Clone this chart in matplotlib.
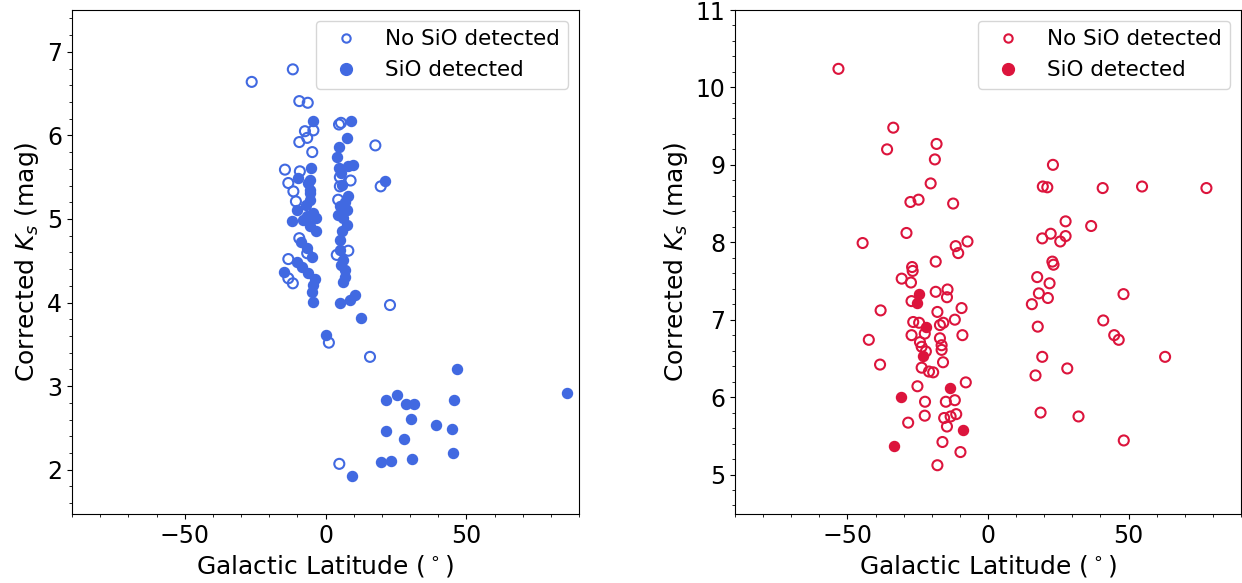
import matplotlib
matplotlib.use("Agg")
import matplotlib.pyplot as plt
from matplotlib.ticker import AutoMinorLocator, MultipleLocator
from matplotlib.lines import Line2D

# ---------------- data ----------------
# Left panel: No SiO detected (open)
left_nosio_lat = [-26.2, -11.6, -9.3, -6.3, 5.5, 4.8, -7.3, -4.3, -6.5, -9.3, -4.7, 17.7,
                  5.1, 8.9, 19.6, -14.4, -9.1, -13.2, -11.4, 4.5, -10.5, -9.3, -6.5, -13.2,
                  -13.2, -11.6, 8.1, 4.0, 1.2, 22.9, 15.8, 4.9, 5.1]
left_nosio_ks = [6.64, 6.79, 6.41, 6.39, 6.15, 6.13, 6.05, 6.06, 5.97, 5.92, 5.80, 5.88,
                 5.50, 5.46, 5.39, 5.59, 5.57, 5.43, 5.33, 5.23, 5.21, 4.77, 4.59, 4.52,
                 4.29, 4.23, 4.62, 4.57, 3.52, 3.97, 3.35, 2.07, 5.39]

# Left panel: SiO detected (filled)
left_sio_lat = [8.9, -4.5, 7.7, 4.9, 4.2, 4.8, 9.7, 8.0, 21.1, -5.1, -9.7, -6.1, -5.5, -5.5,
                5.8, 8.1, -10.2, -12.0, -4.3, -5.5, -7.9, -6.9, -3.4, 5.1, 7.5, 6.3, 7.5,
                4.5, -8.8, -4.9, -10.2, -8.4, -6.1, -4.3, -4.9, -4.3, -14.7, 5.1, 5.1, 6.3,
                6.9, 6.3, 5.1, 10.5, 8.7, 12.6, 0.2, -5.5, -5.5, -4.3, -6.7, 6.0, 5.5, 7.0,
                5.5, 7.0, -3.5, -6.5, -3.6,
                46.6, 85.6, 21.5, 25.3, 28.6, 31.4, 45.7, 30.2, 21.5, 27.9, 39.1, 45.0,
                45.2, 19.7, 23.3, 30.8, 9.5]
left_sio_ks = [6.17, 6.17, 5.97, 5.86, 5.74, 5.61, 5.65, 5.63, 5.46, 5.61, 5.49, 5.43, 5.31,
               5.23, 5.41, 5.28, 5.11, 4.97, 5.05, 4.91, 4.99, 5.17, 5.01, 5.15, 5.11, 5.01,
               4.93, 5.05, 4.73, 4.54, 4.49, 4.43, 4.35, 4.21, 4.13, 4.01, 4.36, 4.75, 4.63,
               4.51, 4.39, 4.25, 4.00, 4.09, 4.03, 3.81, 3.61, 5.47, 5.35, 5.07, 5.03, 4.85,
               4.45, 4.30, 5.55, 5.20, 4.85, 4.65, 4.28,
               3.20, 2.92, 2.83, 2.89, 2.79, 2.79, 2.83, 2.61, 2.46, 2.37, 2.53, 2.49,
               2.20, 2.09, 2.11, 2.13, 1.93]

# Right panel: No SiO detected (open)
right_nosio_lat = [-53.2, -33.7, -35.9, -18.3, -18.9, -20.4, -27.6, -24.7, -12.4, -29.0,
                   -44.6, -11.5, -7.3, -10.6, -18.6, -27.0, -26.8, -30.7, -27.4, -18.6,
                   -14.4, -14.6, -27.2, -38.2, -18.0, -9.4, -11.8, -26.6, -24.5, -17.1,
                   -15.9, -42.4, -27.2, -22.5, -17.1, -16.5, -16.5, -9.1, -24.2, -23.6,
                   -22.1, -16.0, -38.4, -23.6, -21.0, -19.5, -25.1, -7.9, -22.4, -15.0,
                   -11.8, -22.5, -28.4, -15.6, -13.3, -11.3, -14.6, -16.2, -9.8, -18.0,
                   23.1, 19.5, 21.1, 40.8, 54.8, 77.7, 27.6, 36.7, 22.3, 27.6, 19.3, 25.7,
                   22.9, 23.3, 17.5, 21.9, 18.1, 21.3, 15.6, 48.2, 17.7, 41.0, 44.9, 46.5,
                   19.3, 63.0, 28.2, 16.9, 18.7, 32.2, 48.3]
right_nosio_ks = [10.24, 9.48, 9.20, 9.27, 9.07, 8.76, 8.52, 8.55, 8.50, 8.12,
                  7.99, 7.95, 8.01, 7.86, 7.75, 7.68, 7.63, 7.53, 7.48, 7.36,
                  7.39, 7.29, 7.24, 7.12, 7.10, 7.15, 7.00, 6.97, 6.96, 6.93,
                  6.96, 6.74, 6.80, 6.82, 6.76, 6.67, 6.61, 6.80, 6.71, 6.65,
                  6.59, 6.45, 6.42, 6.38, 6.33, 6.32, 6.14, 6.19, 5.94, 5.94,
                  5.96, 5.76, 5.67, 5.73, 5.75, 5.78, 5.62, 5.42, 5.29, 5.12,
                  9.00, 8.72, 8.71, 8.70, 8.72, 8.70, 8.27, 8.21, 8.11, 8.08, 8.05, 8.01,
                  7.75, 7.71, 7.55, 7.47, 7.34, 7.28, 7.20, 7.33, 6.91, 6.99, 6.80, 6.74,
                  6.52, 6.52, 6.37, 6.28, 5.80, 5.75, 5.44]

# Right panel: SiO detected (filled)
right_sio_lat = [-24.6, -25.1, -21.9, -23.0, -13.6, -31.0, -8.9, -33.4]
right_sio_ks = [7.33, 7.21, 6.91, 6.53, 6.12, 6.00, 5.58, 5.37]

legend_labels = ["No SiO detected", "SiO detected"]

# ---------------- plot ----------------
FS_TICK = 17
FS_LABEL = 18
FS_LEG = 15.5

fig = plt.figure(figsize=(12.42, 5.83), dpi=100)
W, H = 1242.0, 583.0
axL = fig.add_axes([72 / W, 69 / H, 507 / W, 504 / H])
axR = fig.add_axes([735 / W, 69 / H, 506 / W, 504 / H])


def panel(ax, x_open, y_open, x_fill, y_fill, color, ylim, ymajor):
    ax.scatter(x_open, y_open, s=52, facecolors='none', edgecolors=color, linewidths=1.5,
               zorder=2)
    ax.scatter(x_fill, y_fill, s=52, color=color, linewidths=1.0, zorder=3)
    ax.set_xlim(-90, 90)
    ax.set_ylim(*ylim)
    ax.xaxis.set_major_locator(MultipleLocator(50))
    ax.yaxis.set_major_locator(MultipleLocator(ymajor))
    ax.xaxis.set_minor_locator(AutoMinorLocator(5))
    ax.yaxis.set_minor_locator(AutoMinorLocator(5))
    ax.tick_params(labelsize=FS_TICK)
    ax.set_xlabel(r"Galactic Latitude ($^\circ$)", fontsize=FS_LABEL)
    ax.set_ylabel(r"Corrected $K_s$ (mag)", fontsize=FS_LABEL)
    handles = [
        Line2D([], [], linestyle='none', marker='o', markersize=6, markerfacecolor='none',
               markeredgecolor=color, markeredgewidth=1.5),
        Line2D([], [], linestyle='none', marker='o', markersize=8.5, markerfacecolor=color,
               markeredgecolor=color),
    ]
    ax.legend(handles, legend_labels, loc='upper right', fontsize=FS_LEG)


panel(axL, left_nosio_lat, left_nosio_ks, left_sio_lat, left_sio_ks,
      'royalblue', (1.47, 7.5), 1)
panel(axR, right_nosio_lat, right_nosio_ks, right_sio_lat, right_sio_ks,
      'crimson', (4.49, 11.0), 1)

fig.savefig("out.png", dpi=100)
